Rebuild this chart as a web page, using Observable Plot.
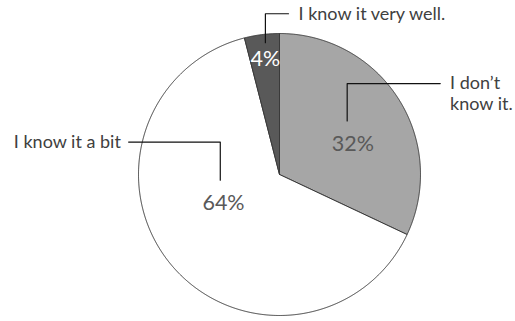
<!DOCTYPE html>
<html><head><meta charset="utf-8">
<script src="https://cdn.jsdelivr.net/npm/d3@7"></script>
<script src="https://cdn.jsdelivr.net/npm/@observablehq/plot@0.6"></script>
<style>body{margin:0;background:#fff}#chart svg{display:block}</style>
</head><body><div id="chart"></div>
<script>
// ---- data ----
const categories = ["I don\u2019t know it.", "I know it a bit", "I know it very well."];
const values = [32, 64, 4];
const percentLabels = ["32%", "64%", "4%"];
const legendLines = [["I don\u2019t", "know it."], ["I know it a bit"], ["I know it very well."]];

// ---- styling / layout ----
const sliceColors = ["#a6a6a6", "#ffffff", "#595959"];
const pctColors = ["#595959", "#595959", "#ffffff"];
const W = 515, H = 321, cx = 279, cy = 174, r = 141;
// label anchors in pie units (radius = 1), x right, y up
const pctPos = [[0.52, 0.215], [-0.397, -0.206], [-0.10, 0.82]];
const leaders = [
  [[0.48, 0.38], [0.48, 0.645], [1.14, 0.645]],
  [[-0.42, -0.04], [-0.42, 0.23], [-1.07, 0.23]],
  [[-0.10, 0.935], [-0.10, 1.14], [0.064, 1.14]]
];
const labelPos = [[1.21, 0.645, "start"], [-1.125, 0.23, "end"], [0.135, 1.14, "start"]];

const total = d3.sum(values);
let acc = 0;
const pts = [];
values.forEach((v, i) => {
  const a0 = acc / total * 2 * Math.PI; acc += v;
  const a1 = acc / total * 2 * Math.PI;
  const n = Math.max(4, Math.ceil((a1 - a0) / 0.005));
  pts.push({slice: categories[i], u: 0, v: 0});
  for (let k = 0; k <= n; k++) {
    const a = a0 + (a1 - a0) * k / n;
    pts.push({slice: categories[i], u: Math.sin(a), v: Math.cos(a)});
  }
  pts.push({slice: categories[i], u: 0, v: 0});
});

const pctData = values.map((v, i) => ({t: percentLabels[i], u: pctPos[i][0], v: pctPos[i][1], c: pctColors[i]}));
const leaderData = leaders.flatMap((L, i) => L.map(p => ({k: i, u: p[0], v: p[1]})));
const lineH = 21 / r;
const labelData = legendLines.flatMap((lines, i) => lines.map((t, j) => ({
  t, u: labelPos[i][0], v: labelPos[i][1] - j * lineH, a: labelPos[i][2]
})));

const chart = Plot.plot({
  width: W, height: H,
  margin: 0,
  x: {domain: [-cx / r, (W - cx) / r], range: [0, W], axis: null},
  y: {domain: [-(H - cy) / r, cy / r], range: [H, 0], axis: null},
  color: {domain: categories, range: sliceColors},
  style: {fontFamily: "Lato, 'Noto Sans', sans-serif", background: "#fff"},
  marks: [
    Plot.line(pts, {x: "u", y: "v", z: "slice", fill: "slice", stroke: "#3a3a3a", strokeWidth: 1, strokeLinejoin: "round"}),
    Plot.line(leaderData, {x: "u", y: "v", z: "k", stroke: "#111", strokeWidth: 1.2}),
    Plot.text(pctData, {x: "u", y: "v", text: "t", fill: "c", fontSize: 21.5}),
    Plot.text(labelData.filter(d => d.a === "start"), {x: "u", y: "v", text: "t", fill: "#404040", fontSize: 18, textAnchor: "start"}),
    Plot.text(labelData.filter(d => d.a === "end"), {x: "u", y: "v", text: "t", fill: "#404040", fontSize: 18, textAnchor: "end"})
  ]
});
document.getElementById("chart").append(chart);
</script>
</body></html>
